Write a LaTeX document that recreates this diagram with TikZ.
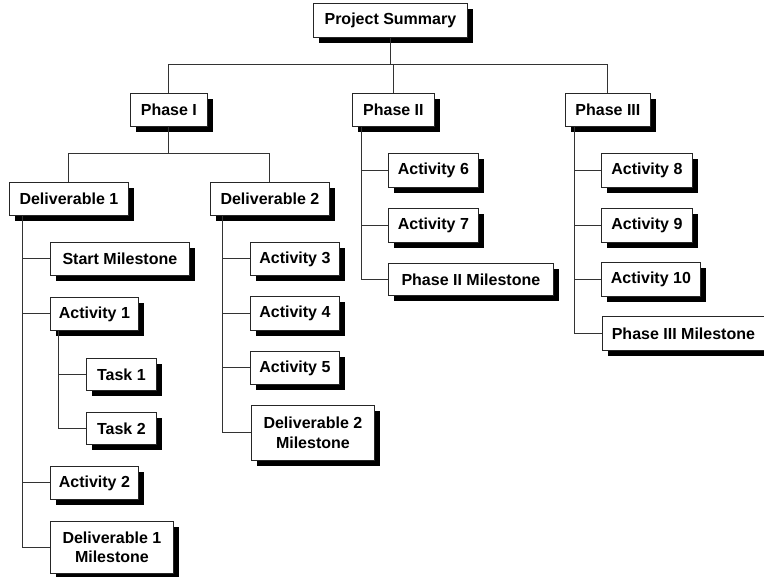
\documentclass[tikz,border=0pt]{standalone}
\usepackage{fontspec}
\setmainfont{Liberation Sans}
\usetikzlibrary{shadows}
\tikzset{
    box/.style={draw=black!85, line width=0.8pt, fill=white, anchor=north west,
        inner sep=0pt, align=center, font=\fontsize{16}{19.5}\selectfont\bfseries,
        drop shadow={shadow xshift=6pt, shadow yshift=-6pt, fill=black, opacity=1}},
    link/.style={draw=black!80, line width=0.9pt}
}
\newcommand{\wbs}[6]{\node[box, minimum width=#4pt, minimum height=#5pt] (#1) at (#2,#3) {#6};}
\begin{document}
\begin{tikzpicture}[x=1pt, y=-1pt]
        \useasboundingbox (0,0) rectangle (764,577);
        % top levels
        \wbs{ps}{313}{3}{154}{34}{Project Summary}
        \wbs{p1}{130}{93}{77}{33}{Phase I}
        \wbs{p2}{352}{93}{82}{33}{Phase II}
        \wbs{p3}{565}{93}{85}{33}{Phase III}
        \wbs{d1}{9}{182}{119}{33}{Deliverable 1}
        \wbs{d2}{210}{182}{119}{33}{Deliverable 2}
        % deliverable 1
        \wbs{sm}{50}{242}{139}{33}{Start Milestone}
        \wbs{a1}{50}{297}{88}{33}{Activity 1}
        \wbs{t1}{86}{358}{70}{32}{Task 1}
        \wbs{t2}{86}{412}{70}{32}{Task 2}
        \wbs{a2}{50}{466}{88}{33}{Activity 2}
        \wbs{d1m}{50}{521}{123}{52}{Deliverable 1\\Milestone}
        % deliverable 2
        \wbs{a3}{250}{242}{89}{33}{Activity 3}
        \wbs{a4}{250}{296}{89}{34}{Activity 4}
        \wbs{a5}{250}{351}{89}{33}{Activity 5}
        \wbs{d2m}{251}{405}{123}{55}{Deliverable 2\\Milestone}
        % phase II
        \wbs{a6}{388}{153}{90}{34}{Activity 6}
        \wbs{a7}{388}{208}{90}{34}{Activity 7}
        \wbs{p2m}{388}{263}{165}{32}{Phase II Milestone}
        % phase III
        \wbs{a8}{601}{153}{91}{34}{Activity 8}
        \wbs{a9}{601}{208}{91}{34}{Activity 9}
        \wbs{a10}{601}{262}{99}{34}{Activity 10}
        \wbs{p3m}{602}{316}{162}{34}{Phase III Milestone}
        % buses and trunks
        \coordinate (psbus) at ([yshift=-27pt]ps.south);
        \coordinate (p1bus) at ([yshift=-27pt]p1.south);
        \coordinate (d1trunk) at ([xshift=13pt]d1.south west);
        \coordinate (d2trunk) at ([xshift=12pt]d2.south west);
        \coordinate (a1trunk) at ([xshift=8pt]a1.south west);
        \coordinate (p2trunk) at ([xshift=9pt]p2.south west);
        \coordinate (p3trunk) at ([xshift=9pt]p3.south west);
        % connectors
        \draw[link] (ps.south) -- (psbus);
        \foreach \n in {p1,p2,p3} \draw[link] (psbus) -| (\n.north);
        \draw[link] (p1.south) -- (p1bus);
        \foreach \n in {d1,d2} \draw[link] (p1bus) -| (\n.north);
        \foreach \n in {sm,a1,a2,d1m} \draw[link] (d1trunk) |- (\n.west);
        \foreach \n in {t1,t2} \draw[link] (a1trunk) |- (\n.west);
        \foreach \n in {a3,a4,a5,d2m} \draw[link] (d2trunk) |- (\n.west);
        \foreach \n in {a6,a7,p2m} \draw[link] (p2trunk) |- (\n.west);
        \foreach \n in {a8,a9,a10,p3m} \draw[link] (p3trunk) |- (\n.west);
    \end{tikzpicture}
\end{document}
